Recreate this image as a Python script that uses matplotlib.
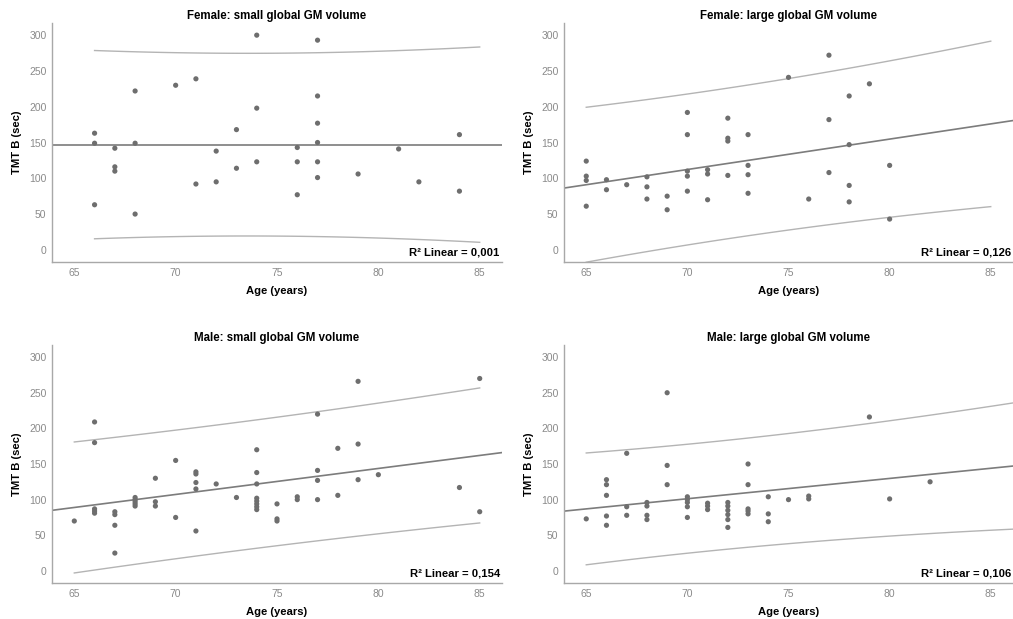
import numpy as np
import matplotlib
matplotlib.use('Agg')
import matplotlib.pyplot as plt

plt.rcParams['font.family'] = ['Liberation Sans', 'DejaVu Sans']

# Female: small global GM volume
ageFS = [66, 66, 66, 67, 67, 67, 68, 68, 68, 70, 71, 71, 72, 72, 73, 73, 74, 74, 74,
         76, 76, 76, 77, 77, 77, 77, 77, 77, 79, 81, 82, 84, 84]
tmtFS = [163, 149, 63, 142, 116, 110, 222, 149, 50, 230, 239, 92, 138, 95, 168, 114, 300, 198, 123,
         143, 123, 77, 293, 215, 177, 150, 123, 101, 106, 141, 95, 161, 82]

# Female: large global GM volume
ageFL = [65, 65, 65, 65, 66, 66, 67, 68, 68, 68, 69, 69, 70, 70, 70, 70, 70,
         71, 71, 71, 72, 72, 72, 72, 73, 73, 73, 73, 75, 76, 77, 77, 77,
         78, 78, 78, 78, 79, 80, 80]
tmtFL = [124, 103, 97, 61, 98, 84, 91, 102, 88, 71, 75, 56, 192, 161, 110, 103, 82,
         112, 106, 70, 184, 156, 152, 104, 161, 118, 105, 79, 241, 71, 272, 182, 108,
         215, 147, 90, 67, 232, 118, 43]

# Male: small global GM volume
ageMS = [65, 66, 66, 66, 66, 66, 67, 67, 67, 67, 68, 68, 68, 68, 68, 69, 69, 69, 70, 70,
         71, 71, 71, 71, 71, 72, 73, 74, 74, 74, 74, 74, 74, 74, 74, 75, 75, 75,
         76, 76, 77, 77, 77, 77, 78, 78, 79, 79, 79, 80, 84, 85, 85]
tmtMS = [70, 209, 180, 87, 84, 81, 83, 79, 64, 25, 103, 100, 97, 94, 91, 130, 97, 91, 155, 75,
         139, 136, 124, 115, 56, 122, 103, 170, 138, 122, 102, 98, 94, 90, 86, 94, 73, 70,
         104, 100, 220, 141, 127, 100, 172, 106, 266, 178, 128, 135, 117, 270, 83]

# Male: large global GM volume
ageML = [65, 66, 66, 66, 66, 66, 67, 67, 67, 68, 68, 68, 68, 69, 69, 69,
         70, 70, 70, 70, 70, 71, 71, 71, 72, 72, 72, 72, 72, 72,
         73, 73, 73, 73, 73, 74, 74, 74, 75, 76, 76, 79, 80, 82]
tmtML = [73, 128, 121, 106, 77, 64, 165, 90, 78, 96, 91, 78, 72, 250, 148, 121,
         104, 100, 96, 90, 75, 95, 91, 86, 96, 91, 85, 79, 72, 61,
         150, 121, 87, 84, 80, 104, 80, 69, 100, 105, 101, 216, 101, 125]

titles = ['Female: small global GM volume', 'Female: large global GM volume',
          'Male: small global GM volume', 'Male: large global GM volume']
r2Labels = ['R\u00b2 Linear = 0,001', 'R\u00b2 Linear = 0,126',
            'R\u00b2 Linear = 0,154', 'R\u00b2 Linear = 0,106']
# linear fit: value at age 65 and at age 85
fitAt65 = [147, 91, 89, 87]
fitAt85 = [147, 176, 162, 144]
piRanges = [(66, 85), (65, 85), (65, 85), (65, 86.1)]
xTicks = [65, 70, 75, 80, 85]
yTicks = [0, 50, 100, 150, 200, 250, 300]


def tValue(df, z=1.959964):
    # Cornish-Fisher approximation of the 97.5% t quantile
    return z + (z**3 + z) / (4 * df) + (5 * z**5 + 16 * z**3 + 3 * z) / (96 * df**2)


def drawPanel(ax, age, tmt, title, r2Text, f65, f85, piRange):
    x = np.array(age, dtype=float)
    y = np.array(tmt, dtype=float)
    n = len(x)
    slope = (f85 - f65) / 20.0
    intercept = f65 - slope * 65
    resid = y - (intercept + slope * x)
    s = np.sqrt(np.sum(resid**2) / (n - 2))
    sxx = np.sum((x - x.mean())**2)
    t = tValue(n - 2)

    xmin, xmax = 63.9, 86.1
    l = np.linspace(xmin, xmax, 50)
    ax.plot(l, intercept + slope * l, color='#7c7c7c', lw=1.2, zorder=2)

    # 95% prediction interval for individual values
    p = np.linspace(piRange[0], piRange[1], 100)
    half = t * s * np.sqrt(1 + 1.0 / n + (p - x.mean())**2 / sxx)
    fit = intercept + slope * p
    ax.plot(p, fit + half, color='#b4b4b4', lw=1.0, zorder=2)
    ax.plot(p, fit - half, color='#b4b4b4', lw=1.0, zorder=2)

    ax.scatter(x, y, s=14, color='#6e6e6e', edgecolors='none', zorder=3)

    ax.set_xlim(xmin, xmax)
    ax.set_ylim(-17, 317)
    ax.set_xticks(xTicks)
    ax.set_yticks(yTicks)
    ax.tick_params(length=0, labelsize=7.5, labelcolor='#8a8a8a', pad=4)
    for side in ['top', 'right']:
        ax.spines[side].set_visible(False)
    for side in ['left', 'bottom']:
        ax.spines[side].set_color('#a8a8a8')
        ax.spines[side].set_linewidth(1.0)
    ax.set_title(title, fontsize=8.3, fontweight='bold', pad=3)
    ax.set_xlabel('Age (years)', fontsize=8.1, fontweight='bold', labelpad=6)
    ax.set_ylabel('TMT B (sec)', fontsize=8.1, fontweight='bold', labelpad=5)
    ax.text(0.995, 0.018, r2Text, transform=ax.transAxes, ha='right', va='bottom',
            fontsize=8.1, fontweight='bold')


fig = plt.figure(figsize=(10.13, 6.19), dpi=100)
W, H = 1013.0, 619.0
boxes = [(52, 23, 502, 262), (564, 23, 1013, 262),
         (52, 345, 502, 583), (564, 345, 1013, 583)]
data = [(ageFS, tmtFS), (ageFL, tmtFL), (ageMS, tmtMS), (ageML, tmtML)]
for i in range(4):
    x0, y0, x1, y1 = boxes[i]
    ax = fig.add_axes([x0 / W, 1 - y1 / H, (x1 - x0) / W, (y1 - y0) / H])
    drawPanel(ax, data[i][0], data[i][1], titles[i], r2Labels[i],
              fitAt65[i], fitAt85[i], piRanges[i])

fig.savefig('out.png', dpi=100)
